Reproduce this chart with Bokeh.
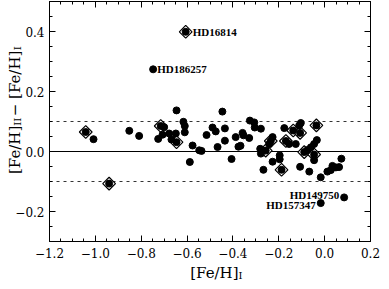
import numpy as np
from bokeh.plotting import figure
from bokeh.models import (LinearAxis, FixedTicker, CustomJSTickFormatter,
                          CustomLabelingPolicy, Label, Range1d)
from bokeh.core.properties import value
from bokeh.embed import file_html
from bokeh.resources import INLINE

# ---- data -------------------------------------------------------------
fe_h_I = [-1.042, -1.008, -0.940, -0.852, -0.809, -0.748, -0.606, -0.726, -0.715,
          -0.700, -0.707, -0.678, -0.668, -0.649, -0.646, -0.646, -0.616, -0.610,
          -0.610, -0.576, -0.547, -0.537, -0.588, -0.515, -0.489, -0.475, -0.467,
          -0.446, -0.435, -0.435, -0.406, -0.388, -0.376, -0.367, -0.358, -0.354,
          -0.329, -0.326, -0.307, -0.305, -0.278, -0.281, -0.278, -0.257, -0.235,
          -0.242, -0.227, -0.267, -0.227, -0.196, -0.196, -0.188, -0.176, -0.169,
          -0.155, -0.126, -0.137, -0.111, -0.104, -0.107, -0.036, -0.034, -0.046,
          -0.060, -0.075, -0.089, -0.046, -0.046, -0.107, -0.067, -0.017, 0.012,
          0.027, 0.034, 0.049, 0.063, 0.073, 0.085, -0.017]
delta_fe = [0.065, 0.041, -0.107, 0.069, 0.052, 0.274, 0.399, 0.042, 0.085,
            0.081, 0.056, 0.060, 0.040, 0.060, 0.031, 0.137, 0.099, 0.085,
            0.064, 0.020, 0.004, 0.002, -0.035, 0.055, 0.080, 0.067, 0.015,
            0.133, 0.077, 0.036, -0.025, 0.048, 0.016, 0.019, 0.062, 0.054,
            0.045, 0.103, 0.097, 0.080, 0.076, 0.009, -0.007, 0.003, 0.035,
            0.025, 0.048, -0.061, -0.034, -0.013, -0.026, -0.061, 0.078, 0.035,
            0.025, 0.025, 0.070, 0.087, 0.095, 0.062, 0.087, 0.038, 0.025,
            0.014, 0.005, -0.002, -0.010, -0.029, -0.051, -0.067, -0.086, -0.067,
            -0.062, -0.048, -0.053, -0.052, -0.024, -0.153, -0.172]

diamond_x = [-1.042, -0.940, -0.606, -0.715, -0.646, -0.257, -0.235, -0.169,
             -0.188, -0.137, -0.107, -0.036, -0.089, -0.046]
diamond_y = [0.065, -0.107, 0.399, 0.085, 0.031, 0.003, 0.035, 0.035,
             -0.061, 0.070, 0.062, 0.087, -0.002, -0.010]

names_right = ["HD16814", "HD186257"]
names_right_x = [-0.606, -0.748]
names_right_y = [0.399, 0.274]
names_left = ["HD149750", "HD157347"]
names_left_x = [0.085, -0.017]
names_left_y = [-0.153, -0.172]

x_ticks = [-1.2, -1.0, -0.8, -0.6, -0.4, -0.2, 0.0, 0.2]
y_ticks = [-0.2, 0.0, 0.2, 0.4]
x_minor = [round(v, 2) for v in np.arange(-1.2, 0.2001, 0.05)]
y_minor = [round(v, 2) for v in np.arange(-0.3, 0.5001, 0.05)]
solid_levels = [0.0]
dashed_levels = [-0.1, 0.1]

X0, X1 = -1.2, 0.2
Y0, Y1 = -0.3, 0.5

# ---- layout: the frame fills the canvas, the plot box sits inside it ----
W, H = 381, 281
BL, BR, BT, BB = 49, 11, 1, 40          # box margins inside the canvas
FW, FH = W - BL - BR, H - BT - BB

def dx(cx):  # canvas px -> data x
    return X0 + (cx - BL) / FW * (X1 - X0)

def dy(cy):  # canvas px -> data y
    return Y1 - (cy - BT) / FH * (Y1 - Y0)

p = figure(width=W, height=H, x_range=Range1d(dx(0), dx(W)),
           y_range=Range1d(dy(H), dy(0)), output_backend="svg",
           toolbar_location=None, title=None,
           min_border_left=0, min_border_right=0, min_border_top=0,
           min_border_bottom=0)
p.xgrid.visible = False
p.ygrid.visible = False
p.outline_line_color = None
p.background_fill_color = "white"
p.border_fill_color = "white"

fmt = CustomJSTickFormatter(code="return tick.toFixed(1).replace('-', '\\u2212');")
hide = CustomLabelingPolicy(code="""
try { for (let i = 0; i < indices.size; i++) { indices.unset(i) } } catch (e) {}
return indices
""")
FONT = "DejaVu Serif"

def style_axis(ax, show_labels):
    ax.axis_line_color = "black"
    ax.axis_line_width = 1
    ax.major_tick_in = 6
    ax.major_tick_out = 0
    ax.minor_tick_in = 3
    ax.minor_tick_out = 0
    ax.major_tick_line_color = "black"
    ax.minor_tick_line_color = "black"
    ax.major_label_text_font = FONT
    ax.major_label_text_font_size = "12px"
    ax.major_label_text_color = "black"
    ax.major_label_standoff = 6
    ax.formatter = fmt
    if not show_labels:
        ax.major_label_policy = hide

xb = p.xaxis[0]
yl = p.yaxis[0]
xb.ticker = FixedTicker(ticks=x_ticks, minor_ticks=x_minor)
yl.ticker = FixedTicker(ticks=y_ticks, minor_ticks=y_minor)
xb.fixed_location = Y0
xb.bounds = (X0, X1)
yl.fixed_location = X0
yl.bounds = (Y0, Y1)
style_axis(xb, True)
style_axis(yl, True)
yl.major_label_standoff = 5

top = LinearAxis(ticker=FixedTicker(ticks=x_ticks, minor_ticks=x_minor),
                 fixed_location=Y1, bounds=(X0, X1))
right = LinearAxis(ticker=FixedTicker(ticks=y_ticks, minor_ticks=y_minor),
                   fixed_location=X1, bounds=(Y0, Y1))
style_axis(top, False)
style_axis(right, False)
p.add_layout(top, "above")
p.add_layout(right, "right")

# reference lines across the box
p.segment(x0=X0, x1=X1, y0=solid_levels, y1=solid_levels,
          line_color="black", line_width=1)
p.segment(x0=X0, x1=X1, y0=dashed_levels, y1=dashed_levels,
          line_color="black", line_width=0.8, line_dash="3 4")

p.scatter(diamond_x, diamond_y, marker="square", angle=np.pi / 4, size=9,
          fill_color="white", line_color="black", line_width=1.2)
p.scatter(fe_h_I, delta_fe, marker="circle", size=7, fill_color="black",
          line_color="black")

p.text(names_right_x, names_right_y, text=names_right, x_offset=[7, 4],
       text_font=value("Liberation Serif"), text_font_style="bold",
       text_font_size="11px", text_align="left", text_baseline="middle",
       text_color="black")
p.text(names_left_x, names_left_y, text=names_left, x_offset=-5,
       y_offset=[-2, 2],
       text_font=value("Liberation Serif"), text_font_style="bold",
       text_font_size="11px", text_align="right", text_baseline="middle",
       text_color="black")

# ---- axis labels (with subscripts) --------------------------------------
MAIN = "15px"
SUB = "10px"
# x label: "[Fe/H]" + subscript "I"
jx = dx(238)
p.add_layout(Label(x=jx, y=dy(272), text="[Fe/H]", text_font=FONT,
                   text_font_size=MAIN, text_align="right",
                   text_baseline="alphabetic", text_color="black"))
p.add_layout(Label(x=jx, y=dy(275), text="I", text_font=FONT,
                   text_font_size=SUB, text_align="left",
                   text_baseline="alphabetic", text_color="black"))

# y label: "[Fe/H]" + sub "II" + " − [Fe/H]" + sub "I", rotated
ang = np.pi / 2
bx_main = dx(14)
bx_sub = dx(17)
j1, j2, j3 = 125.2, 115.8, 49.8
p.add_layout(Label(x=bx_main, y=dy(j1), text="[Fe/H]", text_font=FONT,
                   text_font_size=MAIN, text_align="right", angle=ang,
                   text_baseline="alphabetic", text_color="black"))
p.add_layout(Label(x=bx_sub, y=dy(j1), text="II", text_font=FONT,
                   text_font_size=SUB, text_align="left", angle=ang,
                   text_baseline="alphabetic", text_color="black"))
p.add_layout(Label(x=bx_main, y=dy(j2), text=" \u2212 [Fe/H]", text_font=FONT,
                   text_font_size=MAIN, text_align="left", angle=ang,
                   text_baseline="alphabetic", text_color="black"))
p.add_layout(Label(x=bx_sub, y=dy(j3), text="I", text_font=FONT,
                   text_font_size=SUB, text_align="left", angle=ang,
                   text_baseline="alphabetic", text_color="black"))

open("out.html", "w").write(file_html(p, INLINE))
